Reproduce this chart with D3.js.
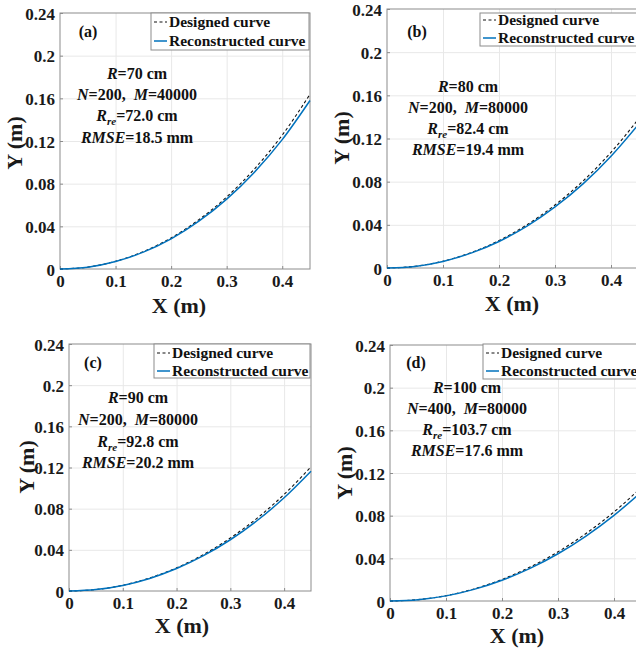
<!DOCTYPE html>
<html>
<head>
<meta charset="utf-8">
<script src="https://cdn.jsdelivr.net/npm/d3@7/dist/d3.min.js"></script>
<style>
  body { margin: 0; background: #fff; }
  svg { display: block; font-family: "Liberation Serif", "Times New Roman", serif; font-weight: bold; }
  .grid line { stroke: #e8e8e8; stroke-width: 1; }
  .grid path { display: none; }
  .ax path { display: none; }
  .ax line { stroke: #8c8c8c; }
  .ax text { font-size: 17px; font-weight: bold; fill: #1a1a1a; font-family: "Liberation Serif", serif; }
</style>
</head>
<body>
<svg id="chart" width="636" height="652"></svg>
<script>
// x positions where the curves were read (m)
var xs = [0, 0.05, 0.1, 0.15, 0.2, 0.25, 0.3, 0.35, 0.4, 0.45];

// (a) R=70 cm
var designedA = [0, 0.0018, 0.0072, 0.0163, 0.0292, 0.0462, 0.0675, 0.0938, 0.1255, 0.1638];
var reconA    = [0, 0.0017, 0.0070, 0.0158, 0.0283, 0.0448, 0.0655, 0.0908, 0.1213, 0.1580];
// (b) R=80 cm
var designedB = [0, 0.0016, 0.0063, 0.0142, 0.0254, 0.0401, 0.0584, 0.0806, 0.1072, 0.1386];
var reconB    = [0, 0.0015, 0.0061, 0.0138, 0.0246, 0.0388, 0.0566, 0.0780, 0.1036, 0.1337];
// (c) R=90 cm
var designedC = [0, 0.0014, 0.0056, 0.0126, 0.0225, 0.0354, 0.0515, 0.0708, 0.0938, 0.1206];
var reconC    = [0, 0.0014, 0.0054, 0.0122, 0.0218, 0.0343, 0.0498, 0.0685, 0.0906, 0.1164];
// (d) R=100 cm
var designedD = [0, 0.0013, 0.0050, 0.0113, 0.0202, 0.0318, 0.0461, 0.0633, 0.0835, 0.1070];
var reconD    = [0, 0.0012, 0.0048, 0.0109, 0.0195, 0.0306, 0.0443, 0.0609, 0.0803, 0.1027];

var xTicks = [0, 0.1, 0.2, 0.3, 0.4];
var xTickLabels = ["0", "0.1", "0.2", "0.3", "0.4"];
var yTicks = [0, 0.04, 0.08, 0.12, 0.16, 0.2, 0.24];
var yTickLabels = ["0", "0.04", "0.08", "0.12", "0.16", "0.2", "0.24"];

var legendNames = ["Designed curve", "Reconstructed curve"];

// annotation rows: [italic symbol, subscript, rest, italic symbol, rest]
var notesA = [["R", "", "=70 cm"], ["N", "", "=200,\u00a0\u00a0", "M", "=40000"], ["R", "re", "=72.0 cm"], ["RMSE", "", "=18.5 mm"]];
var notesB = [["R", "", "=80 cm"], ["N", "", "=200,\u00a0\u00a0", "M", "=80000"], ["R", "re", "=82.4 cm"], ["RMSE", "", "=19.4 mm"]];
var notesC = [["R", "", "=90 cm"], ["N", "", "=200,\u00a0\u00a0", "M", "=80000"], ["R", "re", "=92.8 cm"], ["RMSE", "", "=20.2 mm"]];
var notesD = [["R", "", "=100 cm"], ["N", "", "=400,\u00a0\u00a0", "M", "=80000"], ["R", "re", "=103.7 cm"], ["RMSE", "", "=17.6 mm"]];

var svg = d3.select("#chart");

function drawPanel(p, designed, recon, notes) {
  var x = d3.scaleLinear().domain([0, 0.45]).range([p.left, p.right]);
  var y = d3.scaleLinear().domain([0, 0.24]).range([p.bottom, p.top]);
  var h = p.bottom - p.top, w = p.right - p.left;
  var g = svg.append("g");

  // grid
  g.append("g").attr("class", "grid")
    .attr("transform", "translate(0," + p.bottom + ")")
    .call(d3.axisBottom(x).tickValues(xTicks.slice(1)).tickSize(-h).tickFormat(""));
  g.append("g").attr("class", "grid")
    .attr("transform", "translate(" + p.left + ",0)")
    .call(d3.axisLeft(y).tickValues(yTicks.slice(1, -1)).tickSize(-w).tickFormat(""));

  // axes (inward ticks)
  g.append("g").attr("class", "ax")
    .attr("transform", "translate(0," + p.bottom + ")")
    .call(d3.axisBottom(x).tickValues(xTicks).tickSize(-3).tickPadding(6)
      .tickFormat(function(d, i) { return xTickLabels[i]; }));
  g.append("g").attr("class", "ax")
    .attr("transform", "translate(" + p.left + ",0)")
    .call(d3.axisLeft(y).tickValues(yTicks).tickSize(-3).tickPadding(5)
      .tickFormat(function(d, i) { return yTickLabels[i]; }))
    .selectAll("text").attr("dy", "0.36em");

  // box
  g.append("rect").attr("x", p.left).attr("y", p.top).attr("width", w).attr("height", h)
    .attr("fill", "none").attr("stroke", "#8c8c8c").attr("stroke-width", 1);

  var line = d3.line()
    .x(function(d, i) { return x(xs[i]); })
    .y(function(d) { return y(d); })
    .curve(d3.curveMonotoneX);

  g.append("path").datum(designed).attr("d", line)
    .attr("fill", "none").attr("stroke", "#111").attr("stroke-width", 1.1)
    .attr("stroke-dasharray", "3,2.5");
  g.append("path").datum(recon).attr("d", line)
    .attr("fill", "none").attr("stroke", "#0072BD").attr("stroke-width", 1.5);

  // legend
  var lg = p.legend;
  g.append("rect").attr("x", lg.x).attr("y", lg.y).attr("width", lg.w).attr("height", lg.h)
    .attr("fill", "#fff").attr("stroke", "#8c8c8c").attr("stroke-width", 1);
  legendNames.forEach(function(name, i) {
    var cy = lg.rows[i];
    g.append("line").attr("x1", lg.x + 3).attr("x2", lg.x + 16).attr("y1", cy).attr("y2", cy)
      .attr("stroke", i === 0 ? "#111" : "#0072BD")
      .attr("stroke-width", i === 0 ? 1.1 : 1.5)
      .attr("stroke-dasharray", i === 0 ? "3,2.5" : null);
    g.append("text").attr("x", lg.x + 18).attr("y", cy + 5)
      .attr("font-size", 15.5).attr("fill", "#111").text(name);
  });

  // panel tag
  g.append("text").attr("x", p.tag[0]).attr("y", p.tag[1] + 5).attr("text-anchor", "middle")
    .attr("font-size", 16).attr("fill", "#111").text(p.name);

  // annotation block
  notes.forEach(function(row, i) {
    var t = g.append("text").attr("x", p.noteX).attr("y", p.noteY[i] + 5)
      .attr("text-anchor", "middle").attr("font-size", 16).attr("fill", "#111");
    t.append("tspan").attr("font-style", "italic").text(row[0]);
    if (row[1]) {
      t.append("tspan").attr("font-style", "italic").attr("font-size", 11).attr("dy", 4).text(row[1]);
      t.append("tspan").attr("dy", -4).text(row[2]);
    } else {
      t.append("tspan").text(row[2]);
    }
    if (row.length > 3) {
      t.append("tspan").attr("font-style", "italic").text(row[3]);
      t.append("tspan").text(row[4]);
    }
  });

  // axis titles
  g.append("text").attr("x", p.xLab[0]).attr("y", p.xLab[1] + 8).attr("text-anchor", "middle")
    .attr("font-size", 22).attr("fill", "#1a1a1a").text("X (m)");
  g.append("text").attr("transform", "translate(" + (p.yLab[0] + 7) + "," + p.yLab[1] + ") rotate(-90)")
    .attr("text-anchor", "middle").attr("font-size", 22).attr("fill", "#1a1a1a").text("Y (m)");
}

drawPanel({ name: "(a)", left: 60, right: 310, top: 13, bottom: 269, tag: [88, 32],
  noteX: 137, noteY: [74, 95, 116, 138], xLab: [179, 305], yLab: [15, 143],
  legend: { x: 151, y: 13, w: 158, h: 37, rows: [22, 41] } }, designedA, reconA, notesA);

drawPanel({ name: "(b)", left: 387, right: 639, top: 9, bottom: 268, tag: [417, 32],
  noteX: 468, noteY: [87, 108, 129, 150], xLab: [512, 303], yLab: [342, 138],
  legend: { x: 480, y: 13, w: 170, h: 33, rows: [20, 38] } }, designedB, reconB, notesB);

drawPanel({ name: "(c)", left: 69, right: 311, top: 344, bottom: 591, tag: [93, 363],
  noteX: 138, noteY: [398, 420, 442, 463], xLab: [182, 625], yLab: [27, 467],
  legend: { x: 154, y: 344, w: 156, h: 34, rows: [353, 371] } }, designedC, reconC, notesC);

drawPanel({ name: "(d)", left: 390, right: 642, top: 345, bottom: 601, tag: [416, 363],
  noteX: 467, noteY: [388, 409, 430, 451], xLab: [517, 635], yLab: [345, 473],
  legend: { x: 483, y: 344, w: 170, h: 35, rows: [353, 371] } }, designedD, reconD, notesD);
</script>
</body>
</html>
